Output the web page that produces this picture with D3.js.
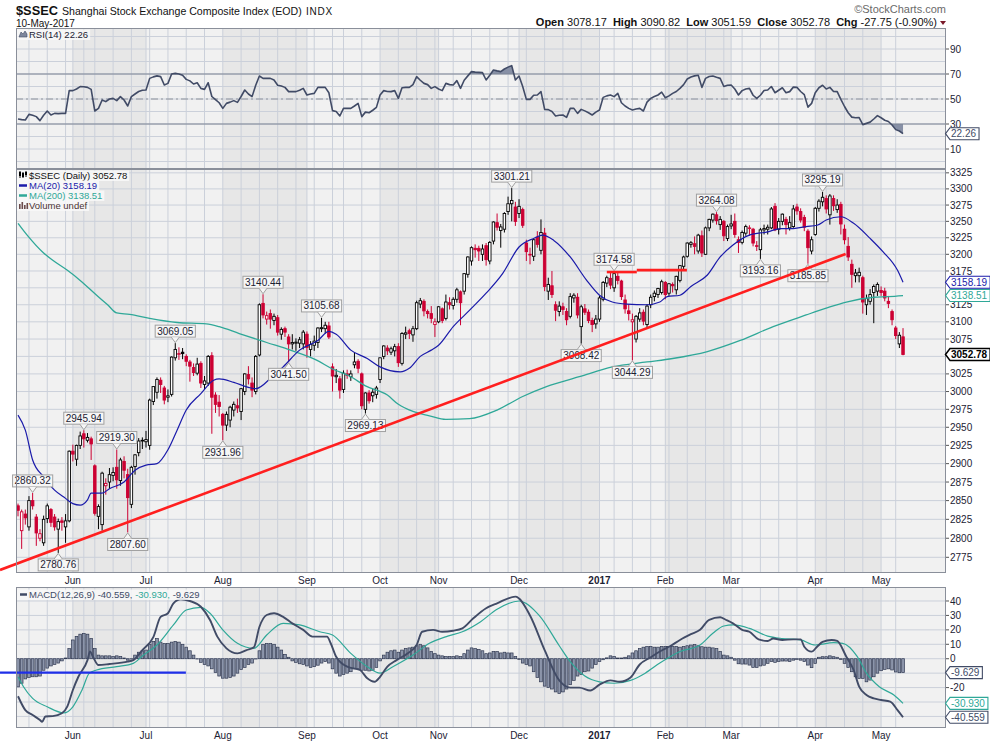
<!DOCTYPE html>
<html>
<head>
<meta charset="utf-8">
<script src="https://d3js.org/d3.v7.min.js"></script>
<style>
html,body{margin:0;padding:0;background:#fff;}
svg{display:block;font-family:"Liberation Sans",Arial,sans-serif;}
</style>
</head>
<body>
<svg id="chart" width="990" height="744"></svg>
<script>
// ================= DATA =================
const firstDay = "2016-05-11";
const holidays = ["2016-06-09","2016-06-10","2016-09-15","2016-09-16","2016-10-03","2016-10-04","2016-10-05","2016-10-06","2016-10-07",
  "2017-01-02","2017-01-27","2017-01-30","2017-01-31","2017-02-01","2017-02-02","2017-04-03","2017-04-04","2017-05-01"];

// daily candles [open, high, low, close]
const ohlc = [
[2843,2846,2829,2837],[2810,2838,2786,2835],[2832,2838,2818,2827],[2815,2856,2810,2850],[2850,2860.32,2838,2843],
[2828,2832,2790,2807],[2800,2812,2796,2806],[2794,2830,2790,2825],[2826,2846,2820,2843],[2838,2840,2815,2821],
[2828,2832,2810,2815],[2812,2826,2780.76,2822],[2823,2828,2810,2821],[2815,2832,2794,2823],[2823,2918,2821,2917],
[2917,2926,2903,2913],[2906,2926,2897,2925],[2925,2944,2920,2938],[2941,2945.94,2922,2934],[2932,2942,2929,2936],
[2934,2937,2905,2927],[2897,2899,2830,2833],[2829,2845,2812,2842],[2818,2889,2810,2887],[2870,2880,2858,2873],
[2875,2894,2866,2885],[2884,2895,2876,2888],[2895,2919.30,2866,2878],[2877,2908,2870,2905],[2903,2910,2880,2891],
[2885,2893,2807.60,2854],[2845,2897,2840,2895],[2896,2913,2885,2912],[2915,2935,2910,2931],[2931,2936,2920,2932],
[2930,2945,2922,2933],[2925,2990,2919,2988],[2986,3007,2981,3007],[2999,3020,2990,3017],[3016,3020,2998,3010],
[3005,3008,2982,2988],[2992,3003,2985,2994],[2996,3050,2993,3049],[3048,3069.05,3044,3060],[3053,3063,3045,3054],
[3056,3062,3046,3054],[3050,3053,3036,3043],[3042,3045,3014,3036],[3034,3040,3022,3027],[3026,3048,3023,3039],
[3040,3043,3005,3012],[3010,3022,3003,3015],[3012,3052,3008,3050],[3051,3056,2941,2992],[2995,2999,2970,2982],
[2985,2995,2965,2979],[2968,2970,2931.96,2953],[2953,2972,2945,2968],[2960,2980,2950,2978],[2974,2986,2965,2982],
[2980,2990,2970,2977],[2972,3005,2960,3004],[3000,3026,2995,3025],[3024,3036,3010,3018],[3012,3020,2992,3002],
[3000,3052,2996,3050],[3052,3127,3050,3125],[3127,3140.44,3105,3110],[3104,3115,3096,3109],[3112,3118,3090,3104],
[3102,3112,3095,3108],[3106,3110,3080,3085],[3082,3092,3074,3089],[3090,3093,3078,3085],[3078,3082,3041.50,3068],
[3068,3082,3060,3070],[3069,3076,3058,3070.5],[3069,3078,3062,3074],[3068,3088,3060,3085],[3082,3086,3048,3063],
[3060,3072,3050,3067],[3066,3080,3058,3072],[3070,3092,3062,3091],[3090,3105.68,3085,3091.5],[3090,3100,3083,3095],
[3094,3100,3075,3078],[3035,3040,3000,3022],[3021,3032,3012,3023],[3018,3022,2990,3002],[3003,3030,2998,3026],
[3025,3031,3018,3023],[3021,3030,3015,3025],[3038,3056,3033,3042],[3043,3046,3026,3033],[3025,3027,2975,2980],
[2975,2999,2969.13,2998],[2998,3002,2983,2987],[2994,3004,2985,2999],[2996,3008,2990,3005],[3017,3048,3012,3048],
[3050,3066,3046,3065],[3062,3066,3052,3058],[3056,3064,3052,3061],[3058,3068,3050,3064],[3064,3069,3035,3041],
[3040,3085,3037,3083],[3082,3093,3075,3084],[3087,3090,3075,3083],[3081,3094,3071,3090],[3090,3131,3088,3128],
[3126,3135,3120,3131],[3130,3133,3108,3116],[3115,3118,3105,3112],[3112,3123,3098,3105],[3096,3105,3078,3100],
[3100,3123,3098,3122],[3119,3121,3098,3102],[3105,3140,3102,3129],[3128,3136,3118,3125],[3124,3136,3118,3133],
[3133,3150,3128,3147],[3144,3146,3095,3128],[3145,3172,3140,3171],[3170,3197,3165,3196],[3190,3212,3183,3210],
[3209,3215,3195,3207],[3209,3213,3190,3205],[3200,3215,3190,3208],[3213,3217,3183,3192],[3190,3220,3185,3218],
[3220,3250,3215,3249],[3248,3262,3236,3241],[3236,3246,3210,3241.5],[3238,3264,3233,3262],[3265,3288,3260,3277],
[3277,3301.21,3250,3282],[3272,3280,3243,3250],[3262,3284,3255,3273],[3268,3271,3240,3244],[3217,3222,3190,3204],
[3200,3210,3185,3199],[3197,3223,3190,3222],[3226,3235,3210,3215],[3206,3253,3200,3233],[3232,3240,3145,3152],
[3145,3165,3132,3155],[3153,3175,3135,3140],[3125,3130,3101,3117],[3115,3130,3108,3123],[3122,3128,3110,3118],
[3115,3120,3095,3103],[3108,3142,3105,3137],[3135,3142,3128,3139],[3136,3142,3105,3110],[3093,3125,3068.42,3122],
[3119,3126,3110,3114],[3114,3118,3098,3102],[3102,3106,3085,3096],[3097,3110,3090,3104],[3104,3138,3100,3135],
[3133,3160,3130,3158],[3157,3168,3151,3165],[3164,3172,3148,3154],[3150,3174.58,3144,3171],[3167,3174,3155,3161],
[3160,3162,3132,3137],[3132,3140,3112,3119],[3116,3126,3102,3112],[3100,3112,3044.29,3103],[3075,3110,3070,3108],
[3104,3120,3100,3113],[3114,3118,3095,3101],[3096,3126,3090,3123],[3125,3140,3120,3136],[3137,3146,3130,3142],
[3140,3150,3135,3149],[3143,3162,3140,3159],[3158,3160,3133,3140],[3142,3157,3138,3156],[3155,3158,3143,3153],
[3147,3168,3140,3167],[3161,3184,3158,3183],[3182,3198,3178,3196],[3197,3218,3195,3217],[3215,3220,3210,3217.5],
[3216,3227,3200,3212],[3205,3231,3201,3229],[3228,3236,3196,3202],[3200,3242,3199,3240],[3240,3254,3235,3253],
[3252,3262,3248,3261],[3260,3264.08,3245,3251],[3245,3258,3237,3253],[3250,3252,3220,3228],[3224,3245,3220,3242],
[3243,3260,3238,3246],[3250,3262,3225,3230],[3222,3227,3202,3218],[3218,3236,3215,3233],[3232,3245,3228,3242],
[3240,3244,3228,3240],[3238,3240,3212,3217],[3213,3220,3205,3212],[3207,3240,3193.16,3237],[3237,3245,3230,3239],
[3238,3245,3230,3241],[3240,3272,3238,3269],[3273,3278,3235,3237],[3238,3255,3230,3250],[3250,3262,3244,3261],
[3253,3257,3230,3245],[3240,3258,3236,3248],[3242,3275,3240,3269],[3272,3277,3260,3266],[3265,3270,3248,3252],
[3256,3260,3235,3241],[3235,3238,3185.85,3210],[3205,3227,3200,3222],[3230,3272,3228,3270],[3270,3284,3265,3281],
[3280,3295.19,3273,3287],[3285,3290,3262,3269],[3260,3292,3245,3289],[3285,3290,3266,3274],[3268,3284,3263,3275],
[3276,3280,3230,3246],[3238,3245,3215,3222],[3212,3226,3190,3196],[3185,3192,3150,3170],[3168,3178,3158,3172],
[3168,3180,3158,3173],[3165,3168,3112,3129],[3125,3140,3110,3134],[3130,3148,3125,3140],[3143,3155,3098,3152],
[3145,3158,3138,3155],[3146,3152,3138,3143],[3145,3150,3130,3135],[3130,3138,3120,3127],[3115,3118,3095,3103],
[3091,3094,3075,3080],[3068,3085,3062,3080.53],[3078.17,3090.82,3051.59,3052.78]
];

// moving averages: [trading-day number, value]
const ma20 = [[0,2967],[2,2946],[4,2905],[7,2882],[10,2864],[13,2853],[15,2846],[17,2844],[19,2851],[20,2860],[23,2860],[25,2866],
 [29,2875],[32,2891],[35,2898],[38,2900],[41,2919],[43.5,2946],[46,2974],[50,2997],[53.5,3016],[55,3018],[59,3013],[63,3006],
 [65,3004],[69.5,3021],[72.5,3035],[77,3059],[82,3073],[85,3086],[87,3082],[91,3059],[95.5,3047],[99,3035],[104.5,3028],
 [107,3033],[110,3050],[113,3059],[115,3066],[119,3093],[123.5,3117],[128,3142],[132.5,3171],[137,3211],[141,3224],
 [143.5,3229],[146.5,3221],[151,3196],[155.5,3161],[159,3139],[162.5,3129],[166.5,3126],[172,3125],[175.5,3129],
 [177.5,3137],[181,3139],[184,3152],[188.5,3169],[192,3196],[195.5,3214],[200,3229],[205,3234],[208.5,3239],[212,3239],
 [215.5,3242],[218.5,3244],[221,3252],[225,3257],[228.5,3247],[233,3224],[236.5,3204],[240.5,3176],[242,3158.19]];
const ma200 = [[0,3247],[2.5,3229],[7,3202],[9.5,3191],[13.5,3176],[17,3161],[21.5,3139],[24.5,3125],[27,3113],[30.5,3111],
 [36,3105],[43.5,3099],[51.5,3097],[55,3093],[60.5,3083],[68,3070],[74.5,3059],[81.5,3045],[86,3032],[91,3021],[95,3008],
 [101,2995],[104,2982],[108,2972],[112.5,2966],[117,2961],[123.5,2962],[131,2974],[138,2993],[144.5,3007],[153.5,3021],
 [162.5,3035],[172,3042],[179,3047],[188.5,3057],[197.5,3073],[206.5,3093],[215.5,3110],[221,3120],[226.5,3129],
 [234,3136],[238,3137],[242,3138.51]];

// RSI(14), one value per trading day
const rsi = [
34,33.5,33.2,37.7,37,35.9,32.7,37,40.4,37.2, 38.5,38.3,38.5,38.5,56.7,56.7,58,59.9,59.8,59.3,
57.7,40.4,42.5,49.2,47.9,50,50.5,48.7,51.9,49.2, 44.4,51.9,54,56,57,57.2,66.5,67.7,68.5,67.9,
61.2,62.5,70,70.5,70,69,65.7,64.5,62,63, 58.5,57.7,63,52,49.5,47,42.5,46.5,47.5,48.7,
47.3,52,57.2,54,51.9,61,68.4,66.5,66.5,66.5, 65.2,61,60.4,59.3,55.9,56,55.9,57,58.5,53.2,
54,54.5,59.3,59.3,59.3,55,40.7,40,36.4,42.5, 42.5,42.5,44.4,46.5,35.9,39.5,39,41,43.3,53.2,
56.7,56,55.9,56.7,50.5,59,59.3,59.3,61.5,67.9, 65,62.5,61.5,58.5,59.9,58,56.7,62.5,61.5,61.2,
64.7,58.5,65,68.5,71.9,71.5,71.3,71.1,65.2,69, 73.2,72.5,71.9,74,75.5,76.7,65.2,68.4,60,49.7,
49.7,53,53.2,55.9,41.7,41.5,40,36.4,37,37.2, 35.3,42.5,42.5,38.5,41.7,40.5,39,37.2,39.5,41.2,
51.3,52.5,53.2,51.9,54.5,47,44.4,42.5,41.2,42, 42.5,40.4,47.5,50.5,52,53.2,55.5,51,52.5,54.5,
56,58.5,61.5,66,67.6,68.5,69,59.3,66.5,68, 68.4,67.4,66.5,60,61,61.2,58,53.2,56.7,58,
58.5,53,50.5,53,56.8,57.2,60,55,57,59, 55,55.9,59.5,59.3,56,53.5,43.5,46.5,55,59,
61,58,59.3,56,55.9,49.7,44,39,35.5,35, 35.1,29.5,30.5,31.5,34,36.7,35,33,32,29.2,
25.5,24.4,22.26];

// MACD(12,26,9) lines: [trading-day number, value]
const macdLine = [[0,-26],[2,-35.6],[4,-39],[6,-42.5],[6.6,-43.7],[7.5,-40],[9.5,-39.8],[12,-37.8],[13.5,-33],[15,-21.7],
 [16.5,-12.5],[19,-1],[19.7,5],[20.5,1.4],[22,-4.4],[25,-3.7],[30,-2],[31.5,-1],[34,6],[37,15],[39,29],[41,31.5],[42.5,38.4],
 [44.5,41.2],[47,40],[50,36],[52.5,26.8],[54.5,15.3],[57,7.2],[60,3.7],[62.5,6],[64.5,7.9],[66,22],[68,30.3],[70,31.5],
 [72.5,29],[75,24.5],[78,20],[80.5,15.3],[84.5,15.3],[85.5,10.7],[87,1.4],[90,-5.5],[93.5,-7.8],[95.5,-13.6],[97.5,-16],
 [99,-12.5],[101,-5.5],[103.5,-1],[106.5,3.7],[109,9.5],[110.5,18.7],[113.5,20],[116,18.7],[119,19.4],[121.5,21],[124.5,28],
 [128,35],[131,38.4],[136,43],[140,30],[144,6],[148,-15],[151,-20],[153.5,-20],[156.5,-22],[159,-18],[162,-15],[164.5,-16],
 [167.5,-13],[170,-4],[173,1],[175.5,5],[178.5,9],[181,13],[184,17],[186.5,20],[189,27],[192,28.7],[193.5,27],[195.5,24.5],
 [198,20],[200,18.7],[202.5,13.4],[205,12.3],[206.5,14],[209,13],[212,13.4],[214,13.4],[215,8.3],[217,4.9],[218.5,8.3],
 [220,11.6],[222.5,13],[224,12.3],[226.5,1.4],[228.5,-7.8],[230,-19.4],[232,-25.2],[234,-27.5],[236,-28.6],[238.5,-29.8],
 [240.5,-35.6],[242,-40.559]];
const signalLine = [[0,-12.5],[1.5,-19.4],[4,-27.5],[8,-33.3],[12.5,-37.5],[15,-33.3],[17.5,-21.7],[19.5,-10],[21.5,-7.8],
 [27,-5.5],[31.5,-3.2],[34,1.9],[38,9.5],[42.5,23.4],[46,33.8],[50,35.6],[52.5,31.5],[56,20],[60,10.7],[64.5,7.2],[68,16.4],
 [72.5,24.5],[77,23.4],[82.5,18.7],[86,16.4],[91,3.7],[95.5,-5.5],[99,-10],[102.5,-5.5],[108,2.6],[112.5,10.7],[117.5,15.7],
 [121.5,18.7],[126.5,25.7],[131,34.3],[137,40],[142.5,30],[148,9],[151,-2],[155,-12],[159,-16],[163,-17],[167.5,-15],
 [171.5,-10],[175.5,-3],[181,5],[186.5,9.5],[190,17.6],[193,22.7],[195.5,23.4],[200,21],[205,15.7],[209,14],[214,13],
 [218,9.5],[223,11.1],[225.5,10.7],[229.5,1.4],[232,-10],[235.5,-19.4],[239.5,-25.2],[242,-30.93]];
// MACD histogram, one value per trading day
const macdHist = [
-19.5,-17,-14,-13,-12.5,-12.5,-12,-8,-6.5,-5, -4,-3,-1.5,0.5,7,13,15.5,17,17.5,17,
14,7,2.5,2,2,2,1.5,2,1.5,0.5, -1,0,2.5,4.5,5.5,6,10,12,14,11.5,
10.5,10.5,11.5,12,11.5,10,8,5.5,2.5,0, -2.5,-4,-5,-7,-9.5,-12,-13.5,-13.5,-13,-12,
-10,-7.5,-6,-4,-3,0,5.5,10,10.5,10.5, 10,8,6,3,1,-1.5,-2.5,-3.5,-4,-5,
-6,-5.5,-4.5,-3,-2,-3,-7,-10,-12,-11, -10,-9,-7,-7,-8,-8,-8.5,-8,-6,-1.5,
2.5,4.5,5.5,6,4.5,6,7,7.5,8,9, 10,9,7.5,5,3.5,2.5,2,1.5,1.5,1.5,
2,1.5,3.5,6,7.5,7,6.5,5.5,3.5,4, 5,5,4,4.5,4,4,1.5,-0.5,-3,-4,
-5,-9,-13,-16,-19,-20,-21,-23,-24,-23, -21,-18,-15,-12,-11,-9,-8.5,-6.5,-4,-2,
-0.7,0.6,2,1.5,0.5,0.5,1,2,4,5.5, 7,8,8.5,8.5,8,8,8.5,8.5,8.5,8.5,
8.5,8,8.5,9,9.5,9.8,9,8.3,8,8, 7.5,7,5,2.5,2,1,-1,-3.5,-3.7,-3.7,
-4.4,-6,-6,-5,-4.5,-3.2,-2,-2.5,-2,-1.6, -1.6,-2,-1,-0.5,-1,-2,-4.4,-6.2,-3.2,1,
1.4,1.4,2,1.4,1,-0.5,-3.2,-6,-9,-12.5, -13.6,-13.6,-16,-14.8,-12.5,-10,-8.3,-7.4,-7,-7.8,
-9.2,-9.7,-9.629];

// annotations
const highCallouts = [[4,2860.32],[18,2945.94],[27,2919.30],[43,3069.05],[67,3140.44],[83,3105.68],[135,3301.21],[163,3174.58],[191,3264.08],[220,3295.19]];
const lowCallouts = [[11,2780.76],[30,2807.60],[56,2931.96],[74,3041.50],[95,2969.13],[154,3068.42],[168,3044.29],[203,3193.16],[216,3185.85]];
const trendLine = [[-4.92,2758.5],[226.3,3200.6]];
const resistanceLines = [[[161,3173.4],[169.2,3173.4]],[[169.2,3176.3],[182.9,3176.3]]];
const macdMarkLine = [[-4.92,-9.7],[45.9,-9.7]];

const priceTicks = d3.range(2775, 3326, 25);
const rsiTicks = [90,70,50,30,10];
const macdTicks = [40,30,20,10,0,-10,-20,-30,-40];
const monthNames = ["Jan","Feb","Mar","Apr","May","Jun","Jul","Aug","Sep","Oct","Nov","Dec"];

// ================= LAYOUT / SCALES =================
const L = 16, R = 946;
const P = {rsi:[28,169], main:[169,573], macd:[587,728]};
const x = d3.scaleLinear().domain([-0.55, 253.75]).range([L, R]);
const yP = d3.scaleLog().domain([2754.6, 3331]).range([P.main[1], P.main[0]]);
const yR = d3.scaleLinear().domain([-6, 106.8]).range([P.rsi[1], P.rsi[0]]);
const yM = d3.scaleLinear().domain([-47.8, 49.7]).range([727.7, P.macd[0]]);

const C = {bg:"#f1f1f1", shade:"#e7e7e7", grid:"#cbd0da", border:"#8a8f9a", red:"#cc0033",
  blue:"#1a1aaa", teal:"#2fa898", slate:"#414b66", text:"#1c2233"};

// trading calendar
const hol = new Set(holidays);
const days = [];
{
  const d = new Date(firstDay + "T00:00:00Z");
  while (days.length < ohlc.length) {
    const dow = d.getUTCDay(), s = d.toISOString().slice(0,10);
    if (dow !== 0 && dow !== 6 && !hol.has(s)) days.push(new Date(d));
    d.setUTCDate(d.getUTCDate() + 1);
  }
}
const monday0 = Date.UTC(2016,0,4);
const weekKey = d => Math.floor((d - monday0) / (7*864e5));
const monthStarts = [], weekStarts = [];
days.forEach((d,i) => {
  if (i === 0) return;
  if (d.getUTCMonth() !== days[i-1].getUTCMonth()) monthStarts.push(i);
  if (weekKey(d) !== weekKey(days[i-1])) weekStarts.push(i);
});

const svg = d3.select("#chart");
svg.append("rect").attr("width",990).attr("height",744).attr("fill","#fff");
const defs = svg.append("defs");
Object.entries(P).forEach(([k,[t,b]]) => {
  defs.append("clipPath").attr("id","clip-"+k).append("rect").attr("x",L).attr("y",t).attr("width",R-L).attr("height",b-t);
});

// panel backgrounds, month shading, grids
function panelBase(key, yScale, hTicks) {
  const [t,b] = P[key];
  const g = svg.append("g").attr("clip-path","url(#clip-"+key+")");
  g.append("rect").attr("x",L).attr("y",t).attr("width",R-L).attr("height",b-t).attr("fill",C.bg);
  monthStarts.forEach((s,k) => {
    const m = days[s].getUTCMonth();
    if (m % 2 === 1) {
      const e = k+1 < monthStarts.length ? x(monthStarts[k+1]) : R;
      g.append("rect").attr("x",x(s)).attr("y",t).attr("width",e - x(s)).attr("height",b-t).attr("fill",C.shade);
    }
  });
  const vlines = Array.from(new Set(weekStarts.concat(monthStarts)));
  g.selectAll(null).data(vlines).join("line")
    .attr("x1",i=>x(i)).attr("x2",i=>x(i)).attr("y1",t).attr("y2",b)
    .attr("stroke",C.grid).attr("stroke-width",1);
  g.selectAll(null).data(hTicks).join("line")
    .attr("x1",L).attr("x2",R).attr("y1",v=>yScale(v)).attr("y2",v=>yScale(v))
    .attr("stroke",C.grid).attr("stroke-width",1);
  return g;
}

// ---------- RSI panel ----------
const gR = panelBase("rsi", yR, d3.range(0,101,10));
const rsiPts = rsi.map((v,i)=>[i,v]);
defs.append("clipPath").attr("id","clip-ob").append("rect").attr("x",L).attr("y",P.rsi[0]).attr("width",R-L).attr("height",yR(70)-P.rsi[0]);
defs.append("clipPath").attr("id","clip-os").append("rect").attr("x",L).attr("y",yR(30)).attr("width",R-L).attr("height",P.rsi[1]-yR(30));
gR.append("path").attr("clip-path","url(#clip-ob)")
  .attr("d", d3.area().x(d=>x(d[0])).y0(yR(70)).y1(d=>yR(d[1]))(rsiPts)).attr("fill","#8790a6");
gR.append("path").attr("clip-path","url(#clip-os)")
  .attr("d", d3.area().x(d=>x(d[0])).y0(yR(30)).y1(d=>yR(d[1]))(rsiPts)).attr("fill","#8790a6");
[70,30].forEach(v => gR.append("line").attr("x1",L).attr("x2",R).attr("y1",yR(v)).attr("y2",yR(v)).attr("stroke","#7d8494").attr("stroke-width",1.2));
gR.append("line").attr("x1",L).attr("x2",R).attr("y1",yR(50)).attr("y2",yR(50)).attr("stroke","#8d929c").attr("stroke-width",1).attr("stroke-dasharray","7,3,2,3");
gR.append("path").attr("d", d3.line().x(d=>x(d[0])).y(d=>yR(d[1]))(rsiPts))
  .attr("fill","none").attr("stroke",C.slate).attr("stroke-width",1.6).attr("stroke-linejoin","round");

// ---------- Main price panel ----------
const gM = panelBase("main", yP, priceTicks);
ohlc.forEach((d,i) => {
  const [o,h,l,c] = d;
  const prev = i > 0 ? ohlc[i-1][3] : o;
  const col = c < prev ? C.red : "#000";
  const hollow = c >= o;
  const cx = x(i);
  gM.append("line").attr("x1",cx).attr("x2",cx).attr("y1",yP(h)).attr("y2",yP(l)).attr("stroke",col).attr("stroke-width",1);
  const top = yP(Math.max(o,c)), bot = yP(Math.min(o,c));
  gM.append("rect").attr("x",cx-1.25).attr("y",top).attr("width",2.5).attr("height",Math.max(bot-top,0.6))
    .attr("fill", hollow ? "#ffffff" : col).attr("stroke",col).attr("stroke-width",0.9);
});
const lineMA = d3.line().curve(d3.curveMonotoneX).x(d=>x(d[0])).y(d=>yP(d[1]));
gM.append("path").attr("d",lineMA(ma200)).attr("fill","none").attr("stroke",C.teal).attr("stroke-width",1.3);
gM.append("path").attr("d",lineMA(ma20)).attr("fill","none").attr("stroke",C.blue).attr("stroke-width",1.2);

// callouts
const gLab = svg.append("g");
function callout(i, v, isHigh) {
  const cx = x(i), py = yP(v);
  const g = gLab.append("g");
  const txt = g.append("text").attr("font-size",10).attr("fill",C.text).attr("text-anchor","middle").text(v.toFixed(2));
  const w = txt.node().getComputedTextLength() + 4, h = 12;
  let by, tipY, baseY;
  if (isHigh) { tipY = py - 0.5; baseY = py - 6; by = baseY - h; }
  else { tipY = py + 0.5; baseY = py + 6; by = baseY; }
  g.insert("rect","text").attr("x",cx-w/2).attr("y",by).attr("width",w).attr("height",h)
    .attr("fill","#f6f6f6").attr("stroke","#a0a0a0").attr("stroke-width",1);
  g.insert("path","text").attr("d",`M${cx-4},${baseY} L${cx},${tipY} L${cx+4},${baseY}`)
    .attr("fill","#f6f6f6").attr("stroke","#a0a0a0").attr("stroke-width",1);
  txt.attr("x",cx).attr("y",by + h - 2.6);
}
highCallouts.forEach(d => callout(d[0], d[1], true));
lowCallouts.forEach(d => callout(d[0], d[1], false));

// drawn trend lines
svg.append("line").attr("x1",x(trendLine[0][0])).attr("y1",yP(trendLine[0][1]))
  .attr("x2",x(trendLine[1][0])).attr("y2",yP(trendLine[1][1])).attr("stroke","#ff1f1f").attr("stroke-width",2.6);
resistanceLines.forEach(seg => svg.append("line").attr("x1",x(seg[0][0])).attr("y1",yP(seg[0][1]))
  .attr("x2",x(seg[1][0])).attr("y2",yP(seg[1][1])).attr("stroke","#ff1f1f").attr("stroke-width",2.6));

// ---------- MACD panel ----------
const gD = panelBase("macd", yM, d3.range(-40,41,10));
gD.selectAll(null).data(macdHist).join("rect")
  .attr("x",(v,i)=>x(i)-1.35).attr("width",2.7)
  .attr("y",v=>Math.min(yM(v),yM(0))).attr("height",v=>Math.max(Math.abs(yM(v)-yM(0)),0.3))
  .attr("fill","#8c95aa").attr("stroke","#2f3852").attr("stroke-width",0.7);
const lineM = d3.line().curve(d3.curveMonotoneX).x(d=>x(d[0])).y(d=>yM(d[1]));
gD.append("path").attr("d",lineM(signalLine)).attr("fill","none").attr("stroke",C.teal).attr("stroke-width",1.2);
gD.append("path").attr("d",lineM(macdLine)).attr("fill","none").attr("stroke",C.slate).attr("stroke-width",1.9);
svg.append("line").attr("x1",x(macdMarkLine[0][0])).attr("y1",yM(macdMarkLine[0][1]))
  .attr("x2",x(macdMarkLine[1][0])).attr("y2",yM(macdMarkLine[1][1])).attr("stroke","#1f2fe8").attr("stroke-width",2.2);

// panel borders
Object.values(P).forEach(([t,b]) => svg.append("rect").attr("x",L+0.5).attr("y",t+0.5).attr("width",R-L-1).attr("height",b-t-1)
  .attr("fill","none").attr("stroke",C.border).attr("stroke-width",1));

// ---------- right axes & value boxes ----------
function valueBox(yc, text, color, bold) {
  const g = svg.append("g");
  const t = g.append("text").attr("x",951).attr("y",yc+3.6).attr("font-size",10).attr("fill",bold?"#000":color)
    .attr("font-weight",bold?"bold":"normal").text(text);
  const w = t.node().getComputedTextLength();
  g.insert("path","text").attr("d",`M945.5,${yc} L950,${yc-6} H${952+w+2} V${yc+6} H950 Z`)
    .attr("fill","#fff").attr("stroke",bold?"#000":color).attr("stroke-width",bold?1.5:1.1);
  return yc;
}
function axis(ticks, scale, fmt, boxes) {
  ticks.forEach(v => {
    const yy = scale(v);
    if (boxes.some(b => Math.abs(b - yy) < 9)) return;
    svg.append("line").attr("x1",R).attr("x2",R+3).attr("y1",yy).attr("y2",yy).attr("stroke","#555");
    svg.append("text").attr("x",950).attr("y",yy+3.6).attr("font-size",10).attr("fill",C.text).text(fmt(v));
  });
}
const rsiBoxes = [yR(22.26)];
axis(rsiTicks, yR, d=>d, rsiBoxes);
valueBox(yR(22.26), "22.26", C.slate, false);
const mainBoxes = [yP(3158.19), yP(3138.51), yP(3052.78)];
axis(priceTicks, yP, d=>d, mainBoxes);
valueBox(yP(3158.19), "3158.19", C.blue, false);
valueBox(yP(3138.51), "3138.51", C.teal, false);
valueBox(yP(3052.78), "3052.78", "#000", true);
const macdBoxes = [yM(-9.629), yM(-30.93), yM(-40.559)];
axis(macdTicks, yM, d=>d, macdBoxes);
valueBox(yM(-9.629), "-9.629", C.slate, false);
valueBox(yM(-30.93), "-30.930", C.teal, false);
valueBox(yM(-40.559), "-40.559", C.slate, false);

// ---------- month labels ----------
[[584],[738.5]].forEach(([yy]) => {
  monthStarts.forEach(s => {
    const d = days[s];
    const isJan = d.getUTCMonth() === 0;
    svg.append("text").attr("x",x(s)).attr("y",yy).attr("text-anchor","middle").attr("font-size",10)
      .attr("font-weight",isJan?"bold":"normal").attr("fill",C.text)
      .text(isJan ? d.getUTCFullYear() : monthNames[d.getUTCMonth()]);
  });
});

// ---------- legends ----------
function legendRow(xx, yy, parts, icon) {
  const t = svg.append("text").attr("x",xx).attr("y",yy).attr("font-size",9.5);
  parts.forEach(p => t.append("tspan").attr("fill",p[1]).text(p[0]));
  const w = t.node().getComputedTextLength();
  svg.insert("rect", () => t.node()).attr("x",17).attr("y",yy-8.5).attr("width",xx-17+w+2).attr("height",10.5)
    .attr("fill","#f8f8f8").attr("opacity",0.85);
  icon();
}
legendRow(29, 38, [["RSI(14) 22.26", C.text]], () => {
  svg.append("path").attr("d","M19,37 L21,32 L23,34 L25,31 L27,34 L27,37 Z").attr("fill","#7d869c").attr("stroke","#414b66").attr("stroke-width",0.6);
});
legendRow(29, 179, [["$SSEC (Daily) 3052.78", "#111"]], () => {
  [[20,171,178,172,176],[23,172,178,173,177],[26,171,177,172,175]].forEach(([cx,a,b,c,d]) => {
    svg.append("line").attr("x1",cx).attr("x2",cx).attr("y1",a).attr("y2",b).attr("stroke","#000");
    svg.append("rect").attr("x",cx-1).attr("y",c).attr("width",2).attr("height",d-c).attr("fill","#000");
  });
});
legendRow(29, 189, [["MA(20) 3158.19", C.blue]], () => {
  svg.append("line").attr("x1",19).attr("x2",27).attr("y1",185.5).attr("y2",185.5).attr("stroke",C.blue).attr("stroke-width",2.5);
});
legendRow(29, 199, [["MA(200) 3138.51", C.teal]], () => {
  svg.append("line").attr("x1",19).attr("x2",27).attr("y1",195.5).attr("y2",195.5).attr("stroke",C.teal).attr("stroke-width",2.5);
});
legendRow(29, 209, [["Volume undef", "#4a3333"]], () => {
  [[19,204],[21.5,202],[24,205],[26.5,203]].forEach(([bx,by]) =>
    svg.append("rect").attr("x",bx).attr("y",by).attr("width",1.6).attr("height",209-by).attr("fill","#6b4b4b"));
});
legendRow(29, 598, [["MACD(12,26,9) -40.559, ", C.slate],["-30.930, ", C.teal],["-9.629", C.slate]], () => {
  svg.append("line").attr("x1",20).attr("x2",27).attr("y1",594.5).attr("y2",594.5).attr("stroke",C.slate).attr("stroke-width",2.5);
});

// ---------- header ----------
svg.append("text").attr("x",16).attr("y",14.5).attr("font-size",12.8).attr("font-weight","bold").attr("fill","#111").text("$SSEC");
svg.append("text").attr("x",62).attr("y",14.5).attr("font-size",10.6).attr("fill","#111").text("Shanghai Stock Exchange Composite Index (EOD)");
svg.append("text").attr("x",306).attr("y",14.5).attr("font-size",10).attr("letter-spacing",0.8).attr("fill","#111").text("INDX");
svg.append("text").attr("x",16).attr("y",27).attr("font-size",10).attr("fill","#111").text("10-May-2017");
svg.append("text").attr("x",946).attr("y",13).attr("text-anchor","end").attr("font-size",11).attr("fill","#6a6a6a").text("\u00A9StockCharts.com");
const q = svg.append("text").attr("x",937).attr("y",26).attr("text-anchor","end").attr("font-size",11).attr("fill","#111").attr("style","white-space:pre");
[["Open",true],[" 3078.17  ",false],["High",true],[" 3090.82  ",false],["Low",true],[" 3051.59  ",false],
 ["Close",true],[" 3052.78  ",false],["Chg",true],[" -27.75 (-0.90%)",false]].forEach(([s,b]) =>
  q.append("tspan").attr("font-weight",b?"bold":"normal").text(s));
svg.append("path").attr("d","M940,21 L946,21 L943,25 Z").attr("fill","#7a1a2a");
</script>
</body>
</html>
